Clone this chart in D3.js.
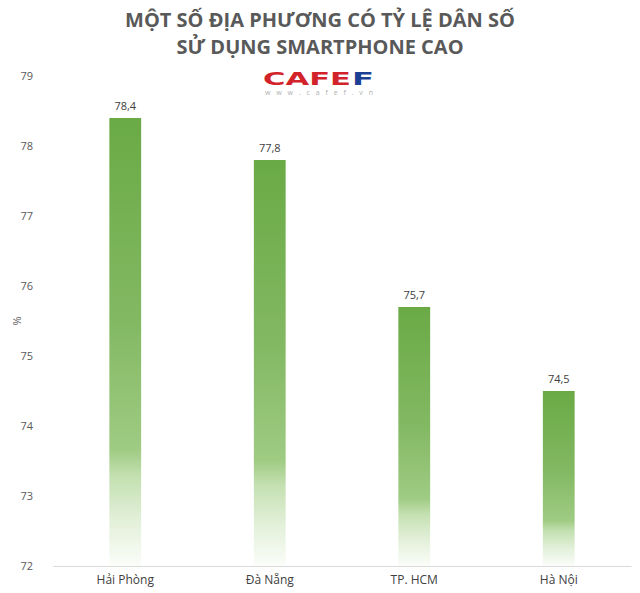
<!DOCTYPE html>
<html>
<head>
<meta charset="utf-8">
<script src="https://cdn.jsdelivr.net/npm/d3@7"></script>
<style>
  body { margin: 0; background: #fff; }
  svg { display: block; font-family: "Open Sans", sans-serif; }
</style>
</head>
<body>
<div id="chart"></div>
<script>
const titleLines = ['MỘT SỐ ĐỊA PHƯƠNG CÓ TỶ LỆ DÂN SỐ', 'SỬ DỤNG SMARTPHONE CAO']
const cities = ['Hải Phòng', 'Đà Nẵng', 'TP. HCM', 'Hà Nội']
const shares = [78.4, 77.8, 75.7, 74.5]
const yTicks = [72, 73, 74, 75, 76, 77, 78, 79]

const W = 640, H = 593
const svg = d3.select('#chart').append('svg')
  .attr('width', W).attr('height', H)

// bar gradient, fades out towards the baseline
const grad = svg.append('defs').append('linearGradient')
  .attr('id', 'barFill')
  .attr('x1', 0).attr('y1', 0).attr('x2', 0).attr('y2', 1)
grad.selectAll('stop')
  .data([
    [0, '#6aaa45'], [0.45, '#82b862'], [0.74, '#9fcb83'],
    [0.8, '#c4e0b1'], [0.9, '#e3f0da'], [1, '#fbfdf9']
  ])
  .join('stop')
  .attr('offset', d => d[0])
  .attr('stop-color', d => d[1])

const x = d3.scaleBand()
  .domain(cities)
  .range([53, 631])
  .paddingInner(0.78)
  .paddingOuter(0.39)

const y = d3.scaleLinear()
  .domain([72, 79])
  .range([566, 76])

// title
svg.append('g').selectAll('text')
  .data(titleLines)
  .join('text')
  .attr('x', W / 2)
  .attr('y', (d, i) => 27 + i * 27)
  .attr('text-anchor', 'middle')
  .attr('font-size', 20)
  .attr('font-weight', 700)
  .attr('fill', '#595959')
  .text(d => d)

// cafef logo
const logo = svg.append('g')
logo.append('text')
  .attr('x', 263).attr('y', 85)
  .attr('font-family', 'DejaVu Sans')
  .attr('font-size', 18).attr('font-weight', 700)
  .attr('textLength', 88).attr('lengthAdjust', 'spacingAndGlyphs')
  .attr('fill', '#d2232a')
  .text('CAFE')
logo.append('text')
  .attr('x', 352).attr('y', 85)
  .attr('font-family', 'DejaVu Sans')
  .attr('font-size', 18).attr('font-weight', 700)
  .attr('textLength', 22).attr('lengthAdjust', 'spacingAndGlyphs')
  .attr('fill', '#1c3f94')
  .text('F')
logo.append('text')
  .attr('x', 265).attr('y', 95)
  .attr('font-size', 7)
  .attr('textLength', 108).attr('lengthAdjust', 'spacing')
  .attr('fill', '#b0b0b0')
  .text('www.cafef.vn')

// y axis labels
svg.append('g').selectAll('text')
  .data(yTicks)
  .join('text')
  .attr('x', 33)
  .attr('y', d => y(d) + 4)
  .attr('text-anchor', 'end')
  .attr('font-size', 11)
  .attr('fill', '#595959')
  .text(d => d)

svg.append('text')
  .attr('transform', 'translate(21,321) rotate(-90)')
  .attr('text-anchor', 'middle')
  .attr('font-size', 11)
  .attr('fill', '#595959')
  .text('%')

// bars
svg.append('g').selectAll('rect')
  .data(shares)
  .join('rect')
  .attr('x', (d, i) => x(cities[i]))
  .attr('y', d => y(d))
  .attr('width', x.bandwidth())
  .attr('height', d => y(72) - y(d))
  .attr('fill', 'url(#barFill)')

svg.append('g').selectAll('text')
  .data(shares)
  .join('text')
  .attr('x', (d, i) => x(cities[i]) + x.bandwidth() / 2)
  .attr('y', d => y(d) - 8)
  .attr('text-anchor', 'middle')
  .attr('font-size', 11)
  .attr('fill', '#404040')
  .text(d => String(d).replace('.', ','))

// x axis
const xAxis = svg.append('g')
  .attr('transform', `translate(0,${y(72)})`)
  .call(d3.axisBottom(x).tickSize(0).tickPadding(9))
xAxis.select('.domain').attr('stroke', '#d9d9d9')
xAxis.selectAll('text')
  .attr('font-family', '"Open Sans", sans-serif')
  .attr('font-size', 12)
  .attr('fill', '#404040')
</script>
</body>
</html>
